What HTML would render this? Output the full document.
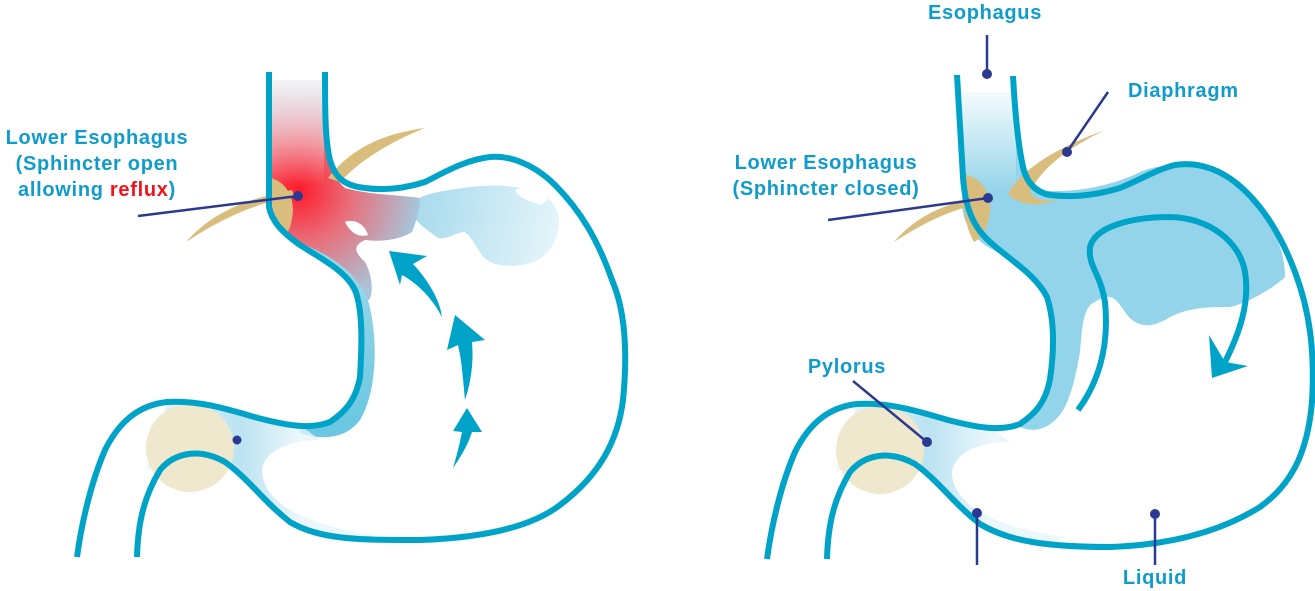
<!DOCTYPE html>
<html><head><meta charset="utf-8"><style>
html,body{margin:0;padding:0;background:#fff;}
svg{display:block}
text{font-family:"Liberation Sans",sans-serif;font-weight:bold;fill:#0f9ccc;font-size:20px;letter-spacing:0.7px}
</style></head><body>
<svg width="1315" height="591" viewBox="0 0 1315 591" xmlns="http://www.w3.org/2000/svg">
<defs>
<radialGradient id="red" cx="298" cy="190" r="120" gradientUnits="userSpaceOnUse">
<stop offset="0" stop-color="#ff1a2a"/><stop offset="0.45" stop-color="#e8707c"/><stop offset="1" stop-color="#a8c4d8"/>
</radialGradient>
<linearGradient id="fadetop" x1="0" y1="78" x2="0" y2="185" gradientUnits="userSpaceOnUse">
<stop offset="0" stop-color="#fff" stop-opacity="0.85"/><stop offset="1" stop-color="#fff" stop-opacity="0"/>
</linearGradient>
<linearGradient id="cloud" x1="420" y1="200" x2="560" y2="230" gradientUnits="userSpaceOnUse">
<stop offset="0" stop-color="#a9dbed"/><stop offset="1" stop-color="#e6f5fa"/>
</linearGradient>
<linearGradient id="band" x1="0" y1="250" x2="0" y2="420" gradientUnits="userSpaceOnUse">
<stop offset="0" stop-color="#9fd8ea"/><stop offset="1" stop-color="#6cc8e2"/>
</linearGradient>
<linearGradient id="rfill" x1="1000" y1="200" x2="1270" y2="250" gradientUnits="userSpaceOnUse">
<stop offset="0" stop-color="#94d4ea"/><stop offset="0.45" stop-color="#7ccbe4"/><stop offset="1" stop-color="#f2fafd"/>
</linearGradient>
<linearGradient id="rtop" x1="0" y1="80" x2="0" y2="190" gradientUnits="userSpaceOnUse">
<stop offset="0" stop-color="#fff" stop-opacity="1"/><stop offset="1" stop-color="#fff" stop-opacity="0"/>
</linearGradient>
<linearGradient id="pyl" x1="150" y1="0" x2="300" y2="0" gradientUnits="userSpaceOnUse">
<stop offset="0" stop-color="#e6f5fa"/><stop offset="0.6" stop-color="#aadcee"/><stop offset="1" stop-color="#e6f5fa"/>
</linearGradient>
<g id="stomach">
<path d="M167,402 C217,403 258,418 300,425 L320,440 C290,440 265,450 262,470 C262,500 300,525 375,535 L360,540 C300,533 267,503 233,467 C200,450 167,457 146,470 Z" fill="url(#pyl)" opacity="0.8"/>
<circle cx="190" cy="448" r="44" fill="#efe8cd"/>
</g>
</defs>

<!-- ============ LEFT ============ -->
<path d="M300,240 C330,255 355,270 368,300 C378,335 378,390 360,420 C345,440 320,440 300,433 L300,425 C330,425 352,410 360,377 C364,330 360,300 345,278 C330,262 310,252 298,245 Z" fill="url(#band)"/>
<path d="M410,205 C420,195 435,192 450,190 C480,185 520,180 550,200 C565,215 560,240 545,255 C530,268 505,268 490,262 C478,255 475,240 465,232 C455,232 448,240 438,238 C430,232 420,226 412,215 Z" fill="url(#cloud)"/>
<path d="M515,190 C525,185 540,190 548,200 L540,205 C530,200 520,200 515,190 Z" fill="#fff"/>
<path d="M272,80 L322,80 C322,140 325,170 345,188 C370,195 400,195 420,198 C420,210 415,225 412,232 C400,240 380,242 365,240 C355,245 352,250 365,262 C375,280 372,300 368,300 C355,270 330,255 298,242 C280,230 272,220 272,200 Z" fill="url(#red)"/>
<path d="M271,78 L324,78 L324,190 L271,190 Z" fill="url(#fadetop)"/>
<path d="M345,222 C355,218 365,225 368,235 C358,238 350,232 345,222 Z" fill="#fff"/>
<use href="#stomach"/>
<!-- diaphragm + sphincter -->
<path d="M186,242 C210,215 240,200 292,190 L294,196 C250,205 220,220 186,242 Z" fill="#d9bd7d"/>
<path d="M271,178 C285,182 293,195 293,210 C292,222 290,230 286,234 C278,228 272,218 271,205 Z" fill="#d9bd7d"/>
<path d="M328,178 C350,150 380,134 425,128 C395,140 362,158 340,182 Z" fill="#d9bd7d"/>
<g fill="none" stroke="#00a3c8" stroke-width="6">
<path d="M269,72 L269,207 C272,222 283,233 300,245 C320,258 345,270 355,290 C363,310 362,345 360,377 C356,400 345,412 330,422 C310,430 285,425 258,418 C230,410 200,400 167,402 C140,405 120,420 105,450 C92,480 82,520 77,557"/>
<path d="M137,557 C138,520 145,495 160,470 C175,452 200,448 225,462 C250,480 262,500 290,522 C320,540 360,540 420,540 C480,538 530,528 560,505 C600,475 618,440 623,400 C628,350 625,310 612,280 C598,240 580,210 555,185 C535,165 510,155 490,157 C465,160 445,172 425,182 C400,190 380,190 365,188 C345,186 335,178 330,160 C325,140 325,110 325,72"/>
</g>
<g fill="#00a3c8">
<path d="M389,251 L427,256 L413,264 C428,280 440,300 442,317 C433,300 420,285 402,275 L400,285 Z"/>
<path d="M455,315 L485,340 L472,342 C474,365 470,385 465,400 C463,380 462,362 458,345 L447,350 Z"/>
<path d="M467,408 L482,432 L472,432 C468,445 460,458 453,468 C457,455 460,442 462,432 L453,431 Z"/>
</g>
<text x="97" y="144" text-anchor="middle">Lower Esophagus</text>
<text x="97" y="170" text-anchor="middle">(Sphincter open</text>
<text x="97" y="196" text-anchor="middle">allowing <tspan fill="#f0121c">reflux</tspan>)</text>
<line x1="138" y1="216" x2="298" y2="196" stroke="#2b3990" stroke-width="2.5"/>
<circle cx="298" cy="196" r="5" fill="#2b3990"/>
<circle cx="237" cy="440" r="4.5" fill="#2b3990"/>

<!-- ============ RIGHT ============ -->
<g transform="translate(690,2)">
<path d="M272,90 L322,90 C325,150 330,175 345,188 C380,192 420,185 450,170 C480,158 520,160 555,190 C580,215 595,245 595,275 C585,285 560,300 540,305 C520,305 500,305 480,315 C460,328 445,325 435,310 C425,295 420,290 405,300 C392,305 392,330 390,350 C385,380 378,405 368,415 C360,425 345,432 330,425 C350,410 362,395 362,360 C362,320 360,295 345,278 C330,262 310,252 298,245 C282,235 272,220 272,200 Z" fill="url(#rfill)"/>
<path d="M270,78 L326,78 L326,190 L270,190 Z" fill="url(#rtop)"/>
<use href="#stomach"/>
<path d="M274,172 C292,176 302,192 300,210 C298,225 292,236 284,240 C278,230 274,215 274,200 Z" fill="#d9bd7d"/>
<path d="M204,240 C225,215 255,200 298,194 L298,200 C260,207 232,222 204,240 Z" fill="#d9bd7d"/>
<path d="M318,192 C330,170 360,148 415,128 C380,145 352,165 340,190 C345,200 360,200 370,196 C355,205 330,205 318,192 Z" fill="#d9bd7d"/>
<g fill="none" stroke="#00a3c8" stroke-width="6">
<path d="M267,73 L273,175 C275,205 283,225 300,240 C320,258 345,272 357,295 C365,320 364,350 360,377 C356,400 345,412 330,422 C310,430 285,425 258,418 C230,410 200,400 167,402 C140,405 120,420 105,450 C92,480 82,520 77,557"/>
<path d="M137,557 C138,520 145,495 160,470 C175,452 200,448 225,462 C250,480 262,500 290,522 C320,540 360,545 420,545 C480,543 530,530 570,505 C605,480 618,445 622,400 C625,350 620,310 605,270 C590,230 570,200 545,180 C525,165 505,160 485,163 C465,168 450,178 430,186 C400,195 378,195 360,193 C345,190 335,180 332,160 C328,140 325,110 323,74"/>
<path d="M388,408 C405,385 420,350 415,300 C410,270 398,265 400,245 C405,225 440,215 480,215 C520,216 550,240 555,270 C560,300 550,330 535,360"/>
</g>
<path d="M519,333 L522,376 L558,364 L535,360 Z" fill="#00a3c8"/>
</g>
<text x="985" y="19" text-anchor="middle">Esophagus</text>
<line x1="987" y1="35" x2="987" y2="74" stroke="#2b3990" stroke-width="2.5"/>
<circle cx="987" cy="74" r="5" fill="#2b3990"/>
<text x="1128" y="97">Diaphragm</text>
<line x1="1108" y1="92" x2="1067" y2="152" stroke="#2b3990" stroke-width="2.5"/>
<circle cx="1067" cy="152" r="5" fill="#2b3990"/>
<text x="826" y="169" text-anchor="middle">Lower Esophagus</text>
<text x="826" y="195" text-anchor="middle">(Sphincter closed)</text>
<line x1="828" y1="220" x2="988" y2="198" stroke="#2b3990" stroke-width="2.5"/>
<circle cx="988" cy="198" r="5" fill="#2b3990"/>
<text x="847" y="373" text-anchor="middle">Pylorus</text>
<line x1="853" y1="381" x2="927" y2="442" stroke="#2b3990" stroke-width="2.5"/>
<circle cx="927" cy="442" r="5" fill="#2b3990"/>
<line x1="977" y1="513" x2="977" y2="565" stroke="#2b3990" stroke-width="2.5"/>
<circle cx="977" cy="513" r="5" fill="#2b3990"/>
<line x1="1155" y1="514" x2="1155" y2="565" stroke="#2b3990" stroke-width="2.5"/>
<circle cx="1155" cy="514" r="5" fill="#2b3990"/>
<text x="1155" y="584" text-anchor="middle">Liquid</text>
</svg>
</body></html>
